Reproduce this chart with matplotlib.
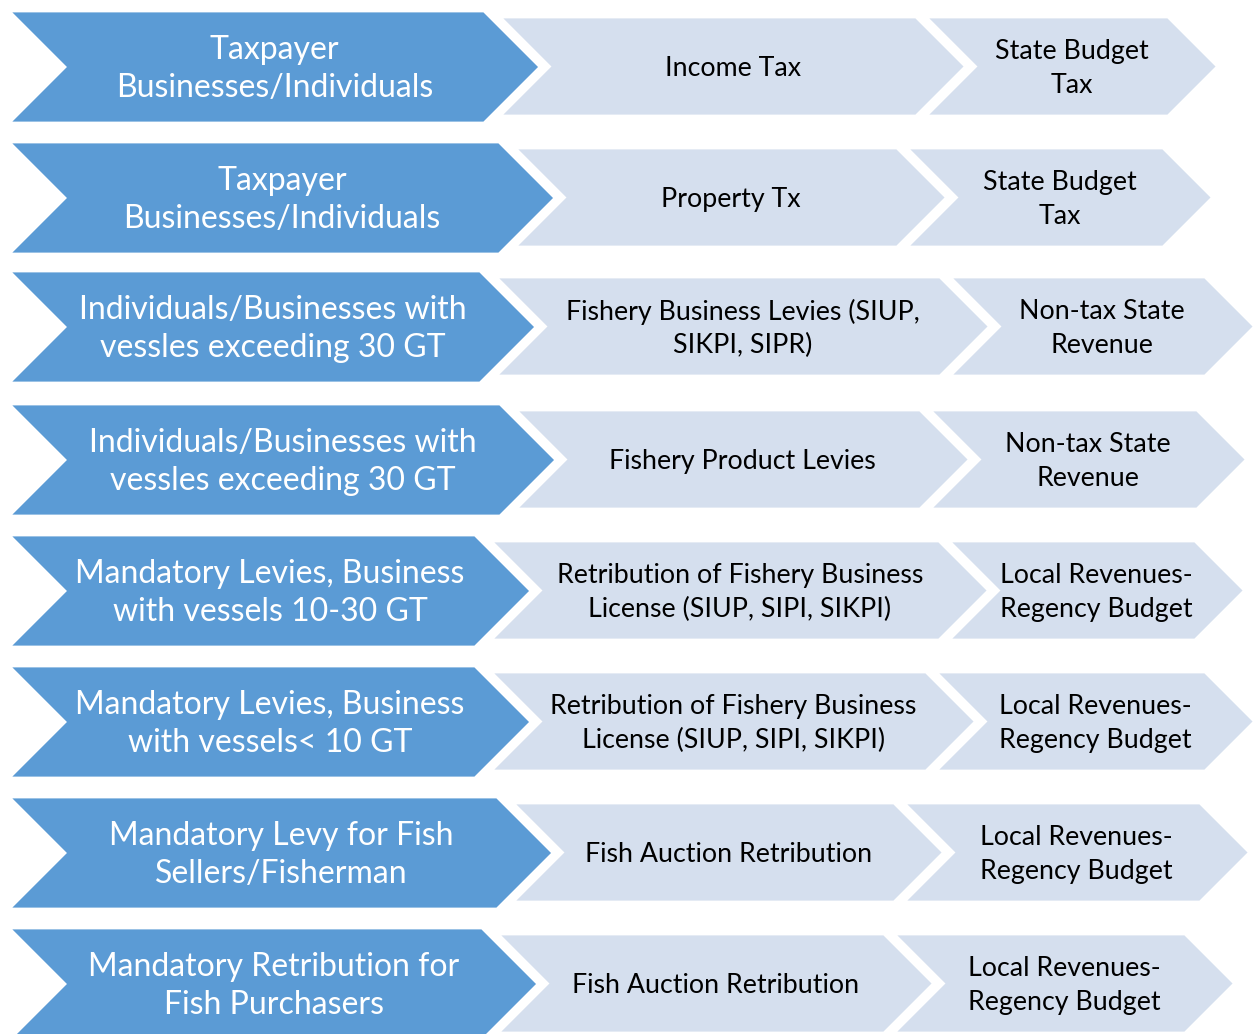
import matplotlib
matplotlib.use("Agg")
import matplotlib.pyplot as plt
from matplotlib.patches import Polygon

# source -> levy -> destination, one row per flow
sources = [
    "Taxpayer\nBusinesses/Individuals",
    "Taxpayer\nBusinesses/Individuals",
    "Individuals/Businesses with\nvessles exceeding 30 GT",
    "Individuals/Businesses with\nvessles exceeding 30 GT",
    "Mandatory Levies, Business\nwith vessels 10-30 GT",
    "Mandatory Levies, Business\nwith vessels< 10 GT",
    "Mandatory Levy for Fish\nSellers/Fisherman",
    "Mandatory Retribution for\nFish Purchasers",
]
levies = [
    "Income Tax",
    "Property Tx",
    "Fishery Business Levies (SIUP,\nSIKPI, SIPR)",
    "Fishery Product Levies",
    "Retribution of Fishery Business\nLicense (SIUP, SIPI, SIKPI)",
    "Retribution of Fishery Business\nLicense (SIUP, SIPI, SIKPI)",
    "Fish Auction Retribution",
    "Fish Auction Retribution",
]
destinations = [
    "State Budget\nTax",
    "State Budget\nTax",
    "Non-tax State\nRevenue",
    "Non-tax State\nRevenue",
    "Local Revenues-\nRegency Budget",
    "Local Revenues-\nRegency Budget",
    "Local Revenues-\nRegency Budget",
    "Local Revenues-\nRegency Budget",
]

# layout (pixels), per row
row_top = [11, 142, 271, 404, 535, 666, 797, 928]
dark_shoulder = [484, 499, 480, 500, 475, 475, 497, 482]
mid_shoulder = [916, 897, 940, 920, 939, 926, 894, 884]
end_shoulder = [1168, 1163, 1205, 1197, 1195, 1205, 1200, 1185]

DARK = "#5B9BD5"
LIGHT = "#D5DFEE"
FONT = ["Lato", "DejaVu Sans"]

W, H = 1253, 1034
fig = plt.figure(figsize=(W / 100, H / 100), dpi=100)
ax = fig.add_axes([0, 0, 1, 1])
ax.set_xlim(0, W)
ax.set_ylim(H, 0)
ax.axis("off")


def chevron(left, shoulder, top, bottom, color):
    depth = (bottom - top) / 2
    mid = (top + bottom) / 2
    pts = [(left, top), (shoulder, top), (shoulder + depth, mid),
           (shoulder, bottom), (left, bottom), (left + depth, mid)]
    ax.add_patch(Polygon(pts, closed=True, facecolor=color,
                         edgecolor="white", linewidth=2))
    return (left + depth + shoulder) / 2, mid + 2


for i in range(len(sources)):
    t = row_top[i]
    cx, cy = chevron(9, dark_shoulder[i], t, t + 112, DARK)
    ax.text(cx, cy, sources[i], ha="center", va="center", color="white",
            fontsize=23, family=FONT, linespacing=1.36)

    cx, cy = chevron(dark_shoulder[i] + 16, mid_shoulder[i], t + 6, t + 105, LIGHT)
    ax.text(cx, cy, levies[i], ha="center", va="center", color="black",
            fontsize=19.3, family=FONT, linespacing=1.42)

    cx, cy = chevron(mid_shoulder[i] + 10, end_shoulder[i], t + 6, t + 105, LIGHT)
    ax.text(cx, cy, destinations[i], ha="center", va="center", color="black",
            fontsize=19.3, family=FONT, linespacing=1.42)

fig.savefig("out.png", dpi=100)
